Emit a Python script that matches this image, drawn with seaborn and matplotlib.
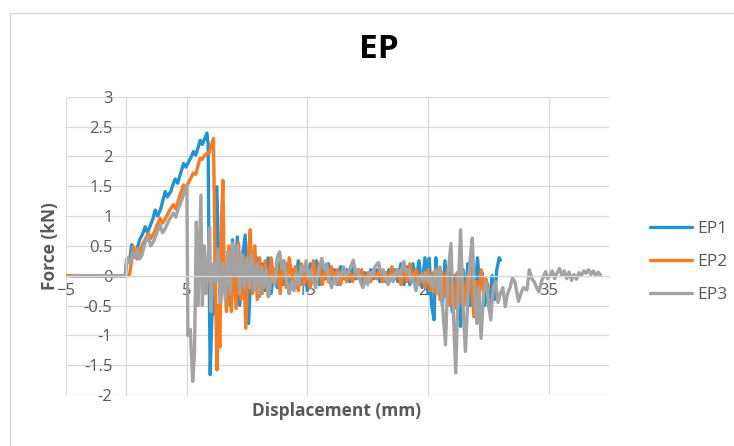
import matplotlib
matplotlib.use("Agg")
import matplotlib.pyplot as plt
import seaborn as sns
import pandas as pd
from matplotlib.patches import Rectangle

# ---------------- data ----------------
ep1_x = [-4.5, -0.1, 0.05, 0.25, 0.45, 0.65, 0.85, 1.10, 1.35, 1.56, 1.75, 2.00, 2.20, 2.39, 2.60, 2.85,
         3.05, 3.22, 3.40, 3.70, 3.90, 4.05, 4.25, 4.50, 4.74, 4.95, 5.20, 5.40, 5.56, 5.75, 5.95, 6.12,
         6.30, 6.50, 6.68, 6.78, 6.85, 6.95, 7.10, 7.25, 7.50, 7.65, 7.80, 8.00, 8.20, 8.40, 8.60, 8.80,
         9.00, 9.20, 9.40, 9.60, 9.85, 10.13, 10.40, 10.60, 10.80, 11.00, 11.25, 11.50, 11.75, 12.00,
         12.25, 12.50, 12.75, 13.00, 13.25, 13.50, 13.75, 14.00, 14.25, 14.50, 14.75, 15.00, 15.25,
         15.50, 15.75, 16.00, 16.25, 16.50, 16.75, 17.00, 17.25, 17.50, 17.75, 18.00, 18.25, 18.50,
         18.75, 19.00, 19.25, 19.50, 19.75, 20.00, 20.25, 20.50, 20.75, 21.00, 21.25, 21.50, 21.75,
         22.00, 22.25, 22.50, 22.75, 23.00, 23.25, 23.50, 23.75, 24.00, 24.25, 24.50, 24.75, 25.00,
         25.10, 25.30, 25.50, 25.65, 25.80, 26.00, 26.20, 26.40, 26.60, 26.80, 27.00, 27.20, 27.40,
         27.70, 27.90, 28.10, 28.30, 28.50, 28.70, 28.90, 29.10, 29.30, 29.50, 29.70, 29.90, 30.10,
         30.30, 30.50, 30.70, 30.90, 31.00]
ep1_y = [0, 0, 0.28, 0.22, 0.52, 0.40, 0.42, 0.60, 0.70, 0.82, 0.72, 0.85, 0.95, 1.10, 1.00, 1.12,
         1.28, 1.41, 1.32, 1.42, 1.55, 1.62, 1.55, 1.72, 1.88, 1.82, 1.92, 2.00, 2.08, 2.02, 2.15, 2.27,
         2.20, 2.30, 2.39, 2.20, 0.30, -1.66, -0.60, -0.65, 1.49, 0.20, -0.50, 0.30, -0.30, 0.20, -0.50, 0.60,
         -0.20, 0.65, -0.50, 0.30, 0.68, -0.80, 0.40, -0.20, 0.30, -0.35, 0.20, -0.25, 0.30, -0.30,
         0.10, -0.20, 0.25, -0.15, 0.20, -0.30, 0.10, -0.20, 0.25, -0.10, 0.15, -0.25, 0.20,
         -0.10, 0.25, -0.15, 0.15, -0.05, 0.20, -0.10, 0.10, -0.15, 0.15, -0.05, 0.10, -0.10,
         0.15, -0.05, 0.10, -0.10, 0.05, -0.10, 0.10, -0.05, 0.10, -0.10, 0.05, -0.10, 0.10,
         -0.05, 0.10, -0.10, 0.20, -0.15, 0.15, -0.15, 0.20, -0.10, 0.25, -0.20, 0.30, -0.30,
         0.29, -0.50, -0.74, 0.30, -0.20, 0.10, -0.50, 0.25, -0.30, 0.10, -0.60, 0.00, -0.40,
         -0.85, 0.10, -0.40, 0.20, -0.50, 0.00, -0.30, 0.30, -0.20, 0.05, -0.50, -0.20, -0.60,
         0.00, -0.40, 0.10, 0.30, 0.26]

ep2_x = [-5.0, 0.25, 0.40, 0.59, 0.75, 0.90, 1.10, 1.40, 1.60, 1.83, 2.00, 2.30, 2.55, 2.80, 3.00, 3.30,
         3.60, 3.90, 4.10, 4.40, 4.73, 4.90, 5.20, 5.40, 5.56, 5.75, 5.95, 6.12, 6.30, 6.50, 6.68, 6.85,
         7.00, 7.22, 7.35, 7.50, 7.60, 7.75, 7.90, 8.00, 8.10, 8.30, 8.50, 8.70, 8.90, 9.10, 9.30, 9.50,
         9.70, 9.90, 10.10, 10.27, 10.45, 10.65, 10.85, 11.05, 11.25, 11.50, 11.75, 12.00, 12.25, 12.50,
         12.75, 13.00, 13.25, 13.50, 13.75, 14.00, 14.25, 14.50, 14.75, 15.00, 15.25, 15.50, 15.75,
         16.00, 16.25, 16.50, 16.75, 17.00, 17.25, 17.50, 17.75, 18.00, 18.25, 18.50, 18.75, 19.00,
         19.25, 19.50, 19.75, 20.00, 20.25, 20.50, 20.75, 21.00, 21.25, 21.50, 21.75, 22.00, 22.25,
         22.50, 22.75, 23.00, 23.25, 23.50, 23.75, 24.00, 24.25, 24.50, 24.75, 25.00, 25.20, 25.40,
         25.60, 25.80, 26.00, 26.20, 26.40, 26.60, 26.80, 27.00, 27.20, 27.40, 27.60, 27.80, 28.00,
         28.20, 28.50, 28.80, 29.00, 29.20, 29.40, 29.60, 29.80, 30.00]
ep2_y = [0, 0, 0.20, 0.49, 0.35, 0.28, 0.40, 0.55, 0.62, 0.71, 0.62, 0.72, 0.85, 0.96, 0.88, 0.98,
         1.10, 1.19, 1.12, 1.32, 1.52, 1.45, 1.58, 1.66, 1.72, 1.70, 1.85, 1.97, 1.95, 2.02, 2.05, 2.05,
         2.15, 2.30, 0.40, -1.58, -0.50, -1.20, 1.00, 1.60, 0.20, -0.60, 0.50, -0.60, 0.40, -0.55, 0.55, -0.40,
         0.30, -0.88, 0.30, 0.77, -0.30, 0.50, -0.40, 0.30, -0.30, 0.25, -0.35, 0.30, -0.10, 0.20,
         -0.30, 0.25, -0.20, 0.30, -0.10, 0.15, -0.25, 0.20, -0.15, 0.10, -0.20, 0.25, -0.10,
         0.20, -0.15, 0.10, -0.10, 0.15, -0.05, 0.10, -0.15, 0.10, -0.10, 0.05, -0.10, 0.10,
         -0.05, 0.10, -0.10, 0.05, -0.10, 0.10, -0.05, 0.10, -0.10, 0.05, -0.10, 0.15, -0.05,
         0.10, -0.15, 0.10, -0.10, 0.20, -0.10, 0.10, -0.15, 0.05, -0.20, 0.10, -0.25, 0.05,
         -0.30, 0.10, -0.40, 0.05, -0.35, 0.10, -0.50, -0.10, -0.55, 0.05, -0.45, 0.10, -0.50,
         -0.10, 0.15, -0.69, -0.10, -0.40, 0.10, -0.30, -0.05, -0.20]

ep3_x = [-4.5, -0.05, 0.00, 0.15, 0.30, 0.50, 0.70, 0.90, 1.10, 1.30, 1.55, 1.83, 2.00, 2.20, 2.50, 2.80,
         3.00, 3.20, 3.50, 3.90, 4.10, 4.30, 4.60, 4.80, 5.02, 5.10, 5.30, 5.50, 5.65, 5.80, 5.95, 6.05,
         6.18, 6.30, 6.45, 6.60, 6.75, 6.90, 7.00, 7.20, 7.40, 7.60, 7.80, 8.00, 8.20, 8.40, 8.60, 8.80,
         9.00, 9.20, 9.40, 9.60, 9.80, 10.00, 10.20, 10.40, 10.60, 10.80, 11.00, 11.20, 11.40, 11.60,
         11.80, 12.00, 12.30, 12.50, 12.70, 12.90, 13.10, 13.30, 13.50, 13.70, 13.90, 14.10, 14.30,
         14.50, 14.70, 14.90, 15.10, 15.30, 15.50, 15.70, 15.90, 16.20, 16.40, 16.60, 16.80, 17.00,
         17.20, 17.40, 17.60, 17.80, 18.00, 18.20, 18.50, 18.80, 19.00, 19.20, 19.40, 19.60, 19.80,
         20.00, 20.20, 20.40, 20.60, 20.90, 21.10, 21.30, 21.50, 21.70, 21.90, 22.10, 22.30, 22.50,
         22.70, 23.00, 23.20, 23.40, 23.60, 23.80, 24.00, 24.20, 24.40, 24.60, 24.80, 25.00, 25.20,
         25.40, 25.60, 25.80, 26.00, 26.20, 26.45, 26.65, 26.90, 27.10, 27.30, 27.50, 27.70, 27.90,
         28.10, 28.30, 28.50, 28.67, 28.85, 29.05, 29.20, 29.40, 29.60, 29.80, 30.00, 30.20, 30.40,
         30.60, 30.80, 31.00, 31.20, 31.40, 31.60, 31.80, 32.00, 32.20, 32.50, 32.70, 32.90, 33.20,
         33.40, 33.60, 33.80, 34.00, 34.20, 34.40, 34.60, 34.75, 34.90, 35.10, 35.30, 35.50, 35.70,
         35.90, 36.10, 36.30, 36.50, 36.70, 36.90, 37.10, 37.30, 37.50, 37.70, 37.90, 38.10, 38.30,
         38.50, 38.70, 38.90, 39.10, 39.30]
ep3_y = [0, 0, 0.25, 0.30, 0.20, 0.38, 0.30, 0.45, 0.28, 0.35, 0.55, 0.66, 0.50, 0.55, 0.70, 0.85,
         0.72, 0.78, 0.92, 1.05, 0.98, 1.12, 1.27, 1.40, 1.52, -1.00, -0.90, -1.77, -1.30, 0.90, -0.50, 0.30,
         1.35, -0.50, 0.50, -0.30, 0.20, 0.80, -0.60, 0.20, -0.10, 0.45, -0.45, 0.20, -0.40, 0.40, -0.30, 0.55,
         0.00, 0.50, -0.30, 0.35, -0.20, 0.30, -0.20, 0.35, -0.25, 0.20, -0.30, 0.15, -0.20, 0.10,
         -0.35, 0.00, -0.15, 0.30, 0.40, 0.10, 0.25, -0.10, -0.30, -0.10, -0.25, 0.05, -0.15,
         0.15, 0.05, 0.25, -0.05, 0.10, -0.10, -0.20, 0.05, 0.29, 0.10, 0.20, -0.05, -0.20,
         -0.05, -0.15, 0.05, 0.00, 0.15, 0.00, 0.10, 0.26, 0.05, 0.10, -0.10, -0.20, -0.05,
         -0.15, 0.05, 0.00, 0.15, 0.22, 0.05, 0.10, -0.05, -0.15, 0.00, -0.10, 0.05, 0.10,
         0.00, 0.24, 0.05, 0.10, -0.10, -0.05, -0.25, -0.05, 0.00, -0.10, 0.05, -0.10, 0.00,
         -0.20, 0.10, -0.30, 0.15, -0.50, -1.16, 0.00, 0.54, -0.60, -1.63, -0.20, 0.77, -0.50,
         -1.27, -0.40, 0.30, 0.63, -0.30, -0.80, -0.20, -1.05, -0.30, -0.10, -0.40, -0.74, -0.20,
         -0.10, -0.45, -0.30, -0.20, -0.52, -0.30, -0.20, -0.04, -0.10, -0.43, -0.30, -0.20, -0.24,
         0.10, -0.05, -0.10, -0.20, -0.27, -0.10, 0.00, 0.07, -0.05, 0.00, 0.08, -0.05, 0.05,
         0.12, 0.00, 0.08, -0.05, 0.06, -0.08, 0.02, -0.06, 0.05, 0.00, 0.08, 0.04, 0.10,
         0.02, 0.08, 0.00, 0.06, 0.01]

series_names = ["EP1", "EP2", "EP3"]
series_colors = ["#1F93D6", "#F97A1F", "#A3A3A3"]
x_ticks = [-5, 5, 15, 25, 35]
y_ticks = [-2, -1.5, -1, -0.5, 0, 0.5, 1, 1.5, 2, 2.5, 3]
y_tick_labels = ["-2", "-1.5", "-1", "-0.5", "0", "0.5", "1", "1.5", "2", "2.5", "3"]

frames = []
for name, xs, ys in zip(series_names, [ep1_x, ep2_x, ep3_x], [ep1_y, ep2_y, ep3_y]):
    frames.append(pd.DataFrame({"Displacement": xs, "Force": ys, "series": name}))
df = pd.concat(frames, ignore_index=True)

# ---------------- styling ----------------
sns.set_theme(style="white")
plt.rcParams["font.family"] = ["Open Sans", "DejaVu Sans"]
TXT = "#595959"
GRID = "#D9D9D9"

fig = plt.figure(figsize=(7.34, 4.46), dpi=100)
fig.patches.append(Rectangle((10 / 734, -0.2), 2.0, 1 - 13 / 446 + 0.2, transform=fig.transFigure,
                             fill=False, edgecolor=GRID, linewidth=1.0, zorder=0))

ax = fig.add_axes([66 / 734, (446 - 395) / 446, (609 - 66) / 734, (395 - 96.7) / 446])

for name, col in zip(series_names, series_colors):
    sub = df[df["series"] == name]
    sns.lineplot(data=sub, x="Displacement", y="Force", sort=False, estimator=None, color=col,
                 linewidth=2.4, ax=ax, label=name, solid_joinstyle="round", solid_capstyle="round")

ax.set_xlim(-5, 40)
ax.set_ylim(-2, 3)
ax.set_xticks(x_ticks)
ax.set_yticks(y_ticks)
ax.set_yticklabels(y_tick_labels)
ax.grid(True, color=GRID, linewidth=0.9)
ax.set_axisbelow(True)
for s in ["top", "right"]:
    ax.spines[s].set_visible(False)
ax.spines["left"].set_position(("data", 0))
ax.spines["bottom"].set_position(("data", 0))
ax.spines["left"].set_color(GRID)
ax.spines["bottom"].set_color(GRID)
ax.spines["left"].set_linewidth(0.9)
ax.spines["bottom"].set_linewidth(0.9)
ax.tick_params(axis="both", length=0, labelsize=12, labelcolor=TXT)
ax.tick_params(axis="y", pad=10)
ax.tick_params(axis="x", pad=5)

ax.set_xlabel("")
ax.set_ylabel("")
fig.text(50 / 734, 1 - 246 / 446, "Force (kN)", rotation=90, ha="center", va="center",
         fontsize=12.5, fontweight="bold", color=TXT)
fig.text(337 / 734, 1 - 411 / 446, "Displacement (mm)", ha="center", va="center",
         fontsize=12.5, fontweight="bold", color=TXT)
fig.text(378.5 / 734, 1 - 49 / 446, "EP", ha="center", va="center",
         fontsize=24, fontweight="bold", color="#000000")

handles, labels = ax.get_legend_handles_labels()
if ax.get_legend() is not None:
    ax.get_legend().remove()
fig.legend(handles, labels, loc="center left", bbox_to_anchor=(650 / 734, 1 - 262 / 446),
           frameon=False, fontsize=12.5, labelcolor=TXT, handlelength=2.4, handletextpad=0.3,
           labelspacing=0.95, borderpad=0, borderaxespad=0)

fig.savefig("out.png", dpi=100)
